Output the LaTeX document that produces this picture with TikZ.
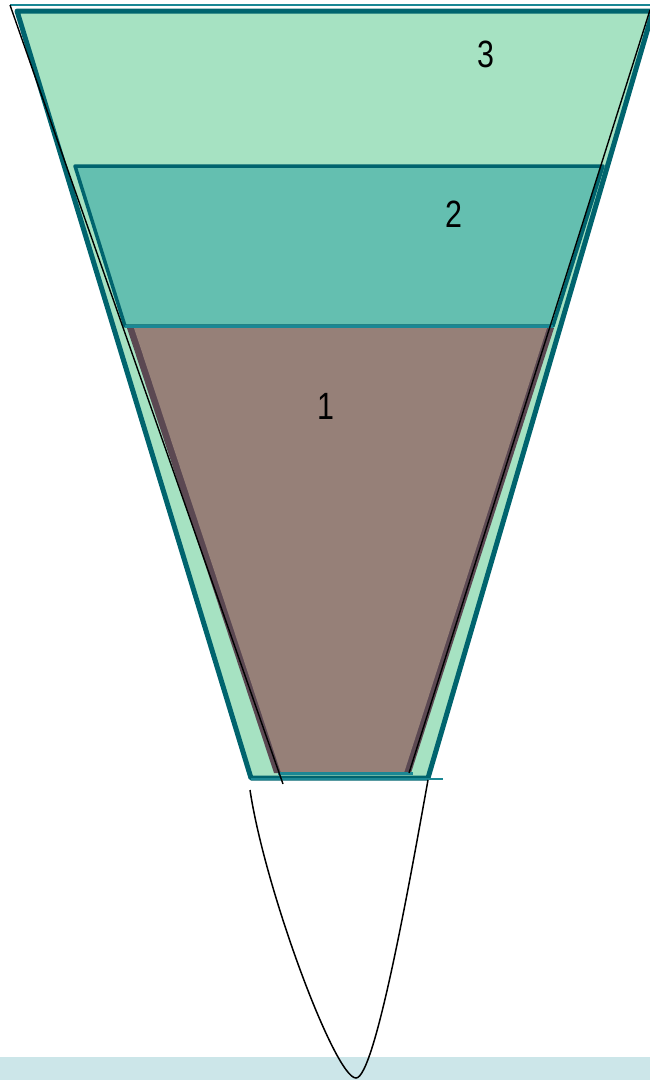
\documentclass[tikz,border=0pt]{standalone}
\usepackage{fontspec}
\setmainfont{Liberation Sans}
\begin{document}
\begin{tikzpicture}[x=1pt,y=-1pt,
  border/.style={draw=darkteal,line width=5pt,line join=round},
  digit/.style={font=\fontsize{38}{40}\selectfont,xscale=0.8,inner sep=0pt},
  thinblack/.style={draw=black,line width=1.4pt}]
\definecolor{lightgreen}{HTML}{A6E2C2}
\definecolor{midteal}{HTML}{64BFB0}
\definecolor{darkteal}{HTML}{00646E}
\definecolor{lineteal}{HTML}{1A8794}
\definecolor{brownfill}{HTML}{968078}
\definecolor{brownshadow}{HTML}{5B4852}
\definecolor{bandblue}{HTML}{CCE6E9}
\useasboundingbox (0,0) rectangle (650,1080);
% bottom band
\fill[bandblue] (0,1057) rectangle (650,1080);
% outer funnel
\coordinate (o1) at (17,11);
\coordinate (o2) at (653,11);
\coordinate (o3) at (428,778);
\coordinate (o4) at (251,778);
\filldraw[fill=lightgreen,border] (o1) -- (o2) -- (o3) -- (o4) -- cycle;
% top thin line
\coordinate (t1) at (10,5);
\coordinate (t2) at (650,5);
\draw[lineteal,line width=1.6pt] (t1) -- (t2);
% layer 2
\coordinate (a1) at (75,166);
\coordinate (a2) at (603,166);
\coordinate (a3) at (553,326);
\coordinate (a4) at (125,326);
\filldraw[fill=midteal,draw=darkteal,line width=3.5pt,line join=round] (a1) -- (a2) -- (a3) -- (a4) -- cycle;
% layer 1
\coordinate (b1) at (127,328);
\coordinate (b2) at (554,328);
\coordinate (b3) at (411,773);
\coordinate (b4) at (274,773);
\fill[brownshadow] (b1) -- (b2) -- (b3) -- (b4) -- cycle;
\coordinate (c1) at (134,328);
\coordinate (c2) at (547,328);
\coordinate (c3) at (404,773);
\coordinate (c4) at (281,773);
\fill[brownfill] (c1) -- (c2) -- (c3) -- (c4) -- cycle;
\draw[lineteal,line width=3pt] (a4) -- (a3);
\coordinate (d1) at (278,773);
\coordinate (d2) at (413,773);
\draw[lineteal,line width=3pt] (d1) -- (d2);
% bottom line of outer funnel
\coordinate (e1) at (251,779);
\coordinate (e2) at (443,779);
\draw[lineteal,line width=1.6pt] (e1) -- (e2);
% black lines
\coordinate (k1) at (10,5);
\coordinate (k2) at (283,784);
\draw[thinblack] (k1) -- (k2);
\coordinate (m1) at (650,10);
\coordinate (m2) at (409,773);
\draw[thinblack] (m1) -- (m2);
% parabola
\coordinate (p1) at (250,790);
\coordinate (p2) at (356,1078);
\coordinate (p3) at (428,780);
\draw[thinblack,line width=1.5pt] (p1) .. controls (265,890) and (335,1078) .. (p2)
  .. controls (375,1078) and (410,880) .. (p3);
% labels
\node[digit] (n3) at (486,54) {3};
\node[digit] (n2) at (454,214) {2};
\node[digit] (n1) at (326,406) {1};
\end{tikzpicture}
\end{document}
